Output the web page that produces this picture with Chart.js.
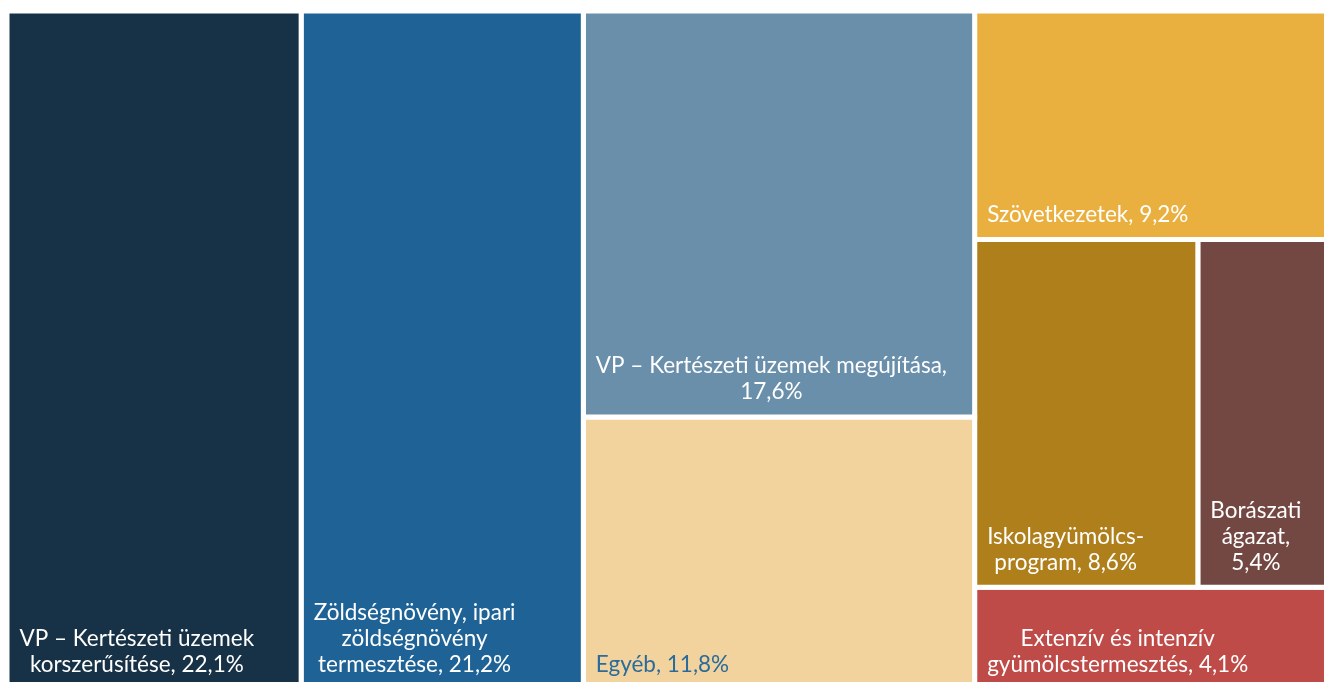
<!DOCTYPE html>
<html>
<head>
<meta charset="utf-8">
<script src="https://cdn.jsdelivr.net/npm/chart.js@4.4.1/dist/chart.umd.min.js"></script>
<style>
    html, body { margin: 0; padding: 0; background: #fff; overflow: hidden; }
    #wrap { position: absolute; left: 0; top: 0; width: 1340px; height: 700px; }
</style>
</head>
<body>
<div id="wrap"><canvas id="treemap" width="1340" height="700"></canvas></div>
<script>
// '|' marks a line break in the label
const categories = [
    'VP – Kertészeti üzemek|korszerűsítése',
    'Zöldségnövény, ipari|zöldségnövény|termesztése',
    'VP – Kertészeti üzemek megújítása',
    'Egyéb',
    'Szövetkezetek',
    'Iskolagyümölcs-|program',
    'Borászati|ágazat',
    'Extenzív és intenzív|gyümölcstermesztés'
];
const shares = [22.1, 21.2, 17.6, 11.8, 9.2, 8.6, 5.4, 4.1];
// value goes on its own line for these
const valueOnNewLine = [false, false, true, false, false, false, true, false];
const colors = ['#173246', '#1F6396', '#6A8FAA', '#F2D39E', '#E9B03F', '#AF7F1B', '#744842', '#BE4B48'];
const textColors = ['#fff', '#fff', '#fff', '#2B6B9B', '#fff', '#fff', '#fff', '#fff'];
// columns -> stacked rows -> side by side
const groups = [[0], [1], [2, 3], [4, [5, 6], 7]];

function sum(node) {
    return Array.isArray(node) ? node.reduce((s, n) => s + sum(n), 0) : shares[node];
}

function layout(node, x0, y0, x1, y1, horizontal, out) {
    if (!Array.isArray(node)) {
        out[node] = { x0: x0, y0: y0, x1: x1, y1: y1 };
        return;
    }
    const total = sum(node);
    let pos = horizontal ? x0 : y0;
    node.forEach(function (child) {
        const size = sum(child) / total * (horizontal ? x1 - x0 : y1 - y0);
        if (horizontal) layout(child, pos, y0, pos + size, y1, false, out);
        else layout(child, x0, pos, x1, pos + size, true, out);
        pos += size;
    });
}

const rects = [];
layout(groups, 0, 0, 100, 100, true, rects);

function fmt(v) {
    return v.toFixed(1).replace('.', ',') + '%';
}

function labelLines(i) {
    const lines = categories[i].split('|');
    if (valueOnNewLine[i]) {
        lines[lines.length - 1] += ',';
        lines.push(fmt(shares[i]));
    } else {
        lines[lines.length - 1] += ', ' + fmt(shares[i]);
    }
    return lines;
}

const datasets = rects.map(function (r, i) {
    return {
        label: categories[i].replace(/\|/g, ' '),
        data: [
            { x: r.x0, y: r.y0 }, { x: r.x1, y: r.y0 },
            { x: r.x1, y: r.y1 }, { x: r.x0, y: r.y1 }, { x: r.x0, y: r.y0 }
        ],
        backgroundColor: colors[i],
        borderColor: '#fff',
        borderWidth: 5,
        pointRadius: 0,
        tension: 0,
        fill: 'shape'
    };
});

const labelPlugin = {
    id: 'treemapLabels',
    afterDatasetsDraw: function (chart) {
        const ctx = chart.ctx,
            xs = chart.scales.x,
            ys = chart.scales.y,
            lineH = 26;
        ctx.save();
        ctx.font = '22.5px Lato, "Open Sans", sans-serif';
        ctx.textAlign = 'center';
        ctx.textBaseline = 'alphabetic';
        rects.forEach(function (r, i) {
            const left = xs.getPixelForValue(r.x0) + 2.5,
                bottom = ys.getPixelForValue(r.y1) - 2.5,
                lines = labelLines(i);
            let blockW = 0;
            lines.forEach(function (l) { blockW = Math.max(blockW, ctx.measureText(l).width); });
            const cx = left + 10 + blockW / 2;
            ctx.fillStyle = textColors[i];
            lines.forEach(function (l, k) {
                ctx.fillText(l, cx, bottom - 15 - (lines.length - 1 - k) * lineH);
            });
        });
        ctx.restore();
    }
};

function draw() {
    new Chart(document.getElementById('treemap').getContext('2d'), {
        type: 'line',
        data: { datasets: datasets },
        options: {
            responsive: false,
            animation: false,
            events: [],
            layout: { padding: { left: 7, top: 11, right: 2, bottom: 11 } },
            scales: {
                x: { type: 'linear', min: 0, max: 100, display: false },
                y: { type: 'linear', min: 0, max: 100, reverse: true, display: false }
            },
            plugins: {
                legend: { display: false },
                tooltip: { enabled: false }
            }
        },
        plugins: [labelPlugin]
    });
}

document.fonts.load('22.5px Lato').then(draw, draw);
</script>
</body>
</html>
